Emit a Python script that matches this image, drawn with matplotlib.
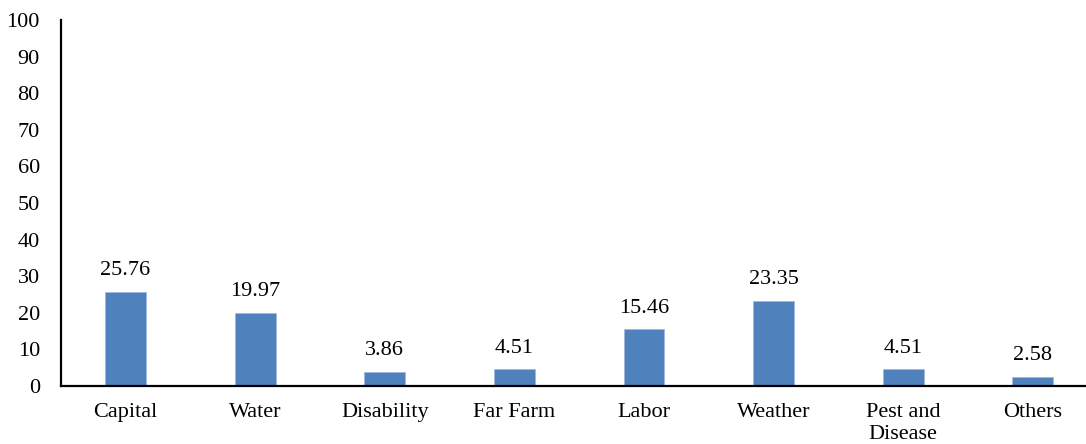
import matplotlib
matplotlib.use("Agg")
from matplotlib import pyplot as plt
import numpy as np

categories = ["Capital", "Water", "Disability", "Far Farm", "Labor",
              "Weather", "Pest and\nDisease", "Others"]
values = [25.76, 19.97, 3.86, 4.51, 15.46, 23.35, 4.51, 2.58]
y_ticks = list(range(0, 101, 10))

plt.rcParams['font.family'] = ['Liberation Serif', 'DejaVu Serif']
plt.rcParams['font.size'] = 16

fig = plt.figure(figsize=(10.86, 4.44), dpi=100)
# axis runs slightly past the right edge of the canvas
ax = fig.add_axes([60.7 / 1086, 58 / 444, 1037 / 1086, 366 / 444])

x = np.arange(len(categories))
bars = ax.bar(x, values, width=0.315, color='#4F81BD', edgecolor='#9DB9DE', linewidth=0.6)

for rect, v in zip(bars, values):
    ax.annotate(f"{v:.2f}", xy=(rect.get_x() + rect.get_width() / 2, v),
                xytext=(0, 8.5), textcoords="offset points",
                ha="center", va="bottom", fontsize=16)

ax.set_xlim(-0.5, len(categories) - 0.5)
ax.set_ylim(0, 100)
ax.set_yticks(y_ticks)
ax.set_xticks(x)
ax.set_xticklabels(categories, linespacing=1.22)
ax.tick_params(axis='x', length=0, pad=12)
ax.tick_params(axis='y', length=0, pad=15)

for side in ['top', 'right']:
    ax.spines[side].set_visible(False)
for side in ['left', 'bottom']:
    ax.spines[side].set_linewidth(1.6)
    ax.spines[side].set_color('black')

plt.savefig('out.png', dpi=100)
